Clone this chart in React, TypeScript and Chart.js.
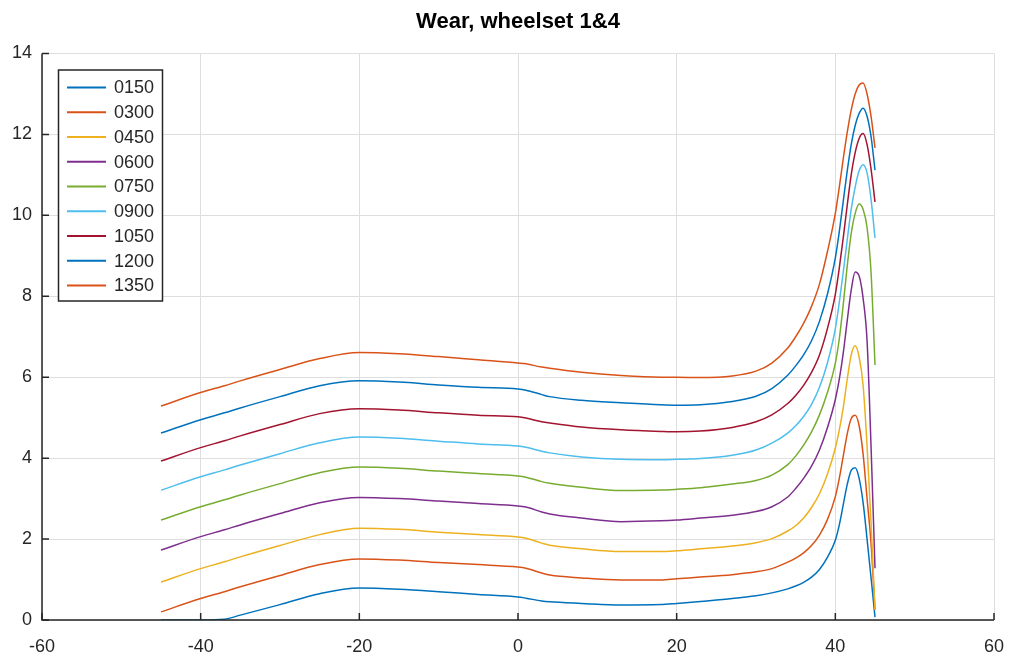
import React, { useEffect, useRef } from 'react';
import { Chart, registerables } from 'chart.js';

Chart.register(...registerables);

const TITLE = 'Wear, wheelset 1&4';
const X_TICKS = [-60, -40, -20, 0, 20, 40, 60];
const Y_TICKS = [0, 2, 4, 6, 8, 10, 12, 14];
const LABELS = ['0150', '0300', '0450', '0600', '0750', '0900', '1050', '1200', '1350'];
const COLORS = ['#0072BD', '#D95319', '#EDB120', '#7E2F8E', '#77AC30', '#4DBEEE', '#A2142F', '#0072BD', '#D95319'];

const X = [-45, -40, -37, -35, -30, -25, -20, -15, -10, -5, 0, 1, 3, 4, 8, 13, 18, 20, 23, 27, 30, 32, 34, 35, 36, 37, 38, 39, 40, 40.5, 41, 41.5, 42, 42.5, 43, 43.5, 44, 44.5, 45];

const S0150 = [0, 0, 0.02, 0.12, 0.38, 0.65, 0.79, 0.76, 0.7, 0.63, 0.57, 0.54, 0.47, 0.45, 0.41, 0.37, 0.38, 0.41, 0.46, 0.53, 0.6, 0.67, 0.77, 0.84, 0.93, 1.06, 1.25, 1.55, 1.97, 2.35, 2.85, 3.35, 3.7, 3.76, 3.5, 2.9, 2.0, 1.05, 0.07];
const S0300 = [0.2, 0.53, 0.7, 0.82, 1.1, 1.37, 1.51, 1.48, 1.42, 1.37, 1.31, 1.28, 1.16, 1.11, 1.04, 0.99, 0.99, 1.02, 1.06, 1.12, 1.19, 1.27, 1.43, 1.53, 1.66, 1.84, 2.1, 2.48, 3.05, 3.5, 4.05, 4.6, 4.98, 5.06, 4.8, 4.1, 3.0, 1.9, 0.25];
const S0450 = [0.94, 1.27, 1.44, 1.56, 1.84, 2.11, 2.27, 2.24, 2.17, 2.11, 2.05, 2.02, 1.9, 1.85, 1.76, 1.69, 1.69, 1.71, 1.76, 1.83, 1.91, 2.01, 2.2, 2.33, 2.52, 2.78, 3.12, 3.6, 4.25, 4.7, 5.25, 5.95, 6.55, 6.78, 6.5, 5.8, 4.3, 2.4, 0.25];
const S0600 = [1.73, 2.06, 2.23, 2.35, 2.63, 2.9, 3.03, 3.0, 2.94, 2.88, 2.82, 2.79, 2.67, 2.62, 2.52, 2.43, 2.45, 2.47, 2.52, 2.59, 2.68, 2.8, 3.04, 3.25, 3.5, 3.8, 4.2, 4.75, 5.45, 5.95, 6.6, 7.4, 8.15, 8.6, 8.5, 7.95, 6.9, 4.3, 1.28];
const S0750 = [2.47, 2.8, 2.97, 3.09, 3.37, 3.64, 3.78, 3.75, 3.68, 3.62, 3.56, 3.53, 3.42, 3.38, 3.28, 3.2, 3.21, 3.23, 3.27, 3.36, 3.45, 3.58, 3.84, 4.05, 4.32, 4.65, 5.07, 5.62, 6.35, 6.95, 7.8, 8.75, 9.55, 10.05, 10.28, 10.15, 9.7, 8.6, 6.3];
const S0900 = [3.21, 3.54, 3.71, 3.83, 4.11, 4.38, 4.52, 4.49, 4.42, 4.35, 4.3, 4.27, 4.17, 4.13, 4.03, 3.97, 3.96, 3.97, 3.99, 4.07, 4.2, 4.37, 4.62, 4.8, 5.03, 5.33, 5.75, 6.35, 7.2, 7.85, 8.6, 9.4, 10.15, 10.7, 11.1, 11.25, 11.05, 10.4, 9.44];
const S1050 = [3.93, 4.26, 4.43, 4.55, 4.83, 5.1, 5.22, 5.19, 5.12, 5.06, 5.02, 4.99, 4.9, 4.87, 4.77, 4.7, 4.66, 4.65, 4.67, 4.76, 4.9, 5.07, 5.35, 5.55, 5.8, 6.12, 6.55, 7.2, 8.05, 8.7, 9.45, 10.25, 11.0, 11.55, 11.9, 12.02, 11.75, 11.15, 10.33];
const S1200 = [4.62, 4.95, 5.12, 5.24, 5.52, 5.79, 5.91, 5.88, 5.81, 5.75, 5.71, 5.68, 5.57, 5.52, 5.43, 5.37, 5.32, 5.31, 5.32, 5.4, 5.53, 5.72, 6.05, 6.28, 6.55, 6.9, 7.38, 8.05, 8.95, 9.6, 10.35, 11.1, 11.75, 12.22, 12.52, 12.65, 12.45, 11.95, 11.12];
const S1350 = [5.29, 5.62, 5.79, 5.91, 6.19, 6.46, 6.61, 6.58, 6.51, 6.43, 6.35, 6.33, 6.25, 6.22, 6.12, 6.04, 6.0, 6.0, 5.99, 6.03, 6.15, 6.35, 6.72, 7.0, 7.33, 7.75, 8.3, 9.1, 10.05, 10.7, 11.4, 12.05, 12.6, 13.0, 13.22, 13.27, 13.0, 12.45, 11.67];

const SERIES = [S0150, S0300, S0450, S0600, S0750, S0900, S1050, S1200, S1350];

const FONT = '"Liberation Sans", Arial, Helvetica, sans-serif';
const TEXT = '#262626';

const decor = {
  id: 'decor',
  afterDraw(chart: any) {
    const { ctx, chartArea: a, scales } = chart;
    const xs = scales.x;
    const ys = scales.y;
    ctx.save();
    ctx.strokeStyle = TEXT;
    ctx.lineWidth = 1.5;
    ctx.beginPath();
    ctx.moveTo(a.left, a.top);
    ctx.lineTo(a.left, a.bottom);
    ctx.lineTo(a.right, a.bottom);
    ctx.stroke();
    ctx.beginPath();
    for (const v of X_TICKS) {
      const px = xs.getPixelForValue(v);
      ctx.moveTo(px, a.bottom);
      ctx.lineTo(px, a.bottom - 7);
    }
    for (const v of Y_TICKS) {
      const py = ys.getPixelForValue(v);
      ctx.moveTo(a.left, py);
      ctx.lineTo(a.left + 7, py);
    }
    ctx.stroke();

    ctx.fillStyle = '#000';
    ctx.font = `bold 22px ${FONT}`;
    ctx.textAlign = 'center';
    ctx.textBaseline = 'middle';
    ctx.fillText(TITLE, (a.left + a.right) / 2, 22);

    const bx = a.left + 16.5;
    const by = a.top + 16.5;
    const bw = 104;
    const rowH = 24.75;
    const bh = 231;
    ctx.fillStyle = '#fff';
    ctx.fillRect(bx, by, bw, bh);
    ctx.strokeStyle = TEXT;
    ctx.lineWidth = 1.5;
    ctx.strokeRect(bx, by, bw, bh);
    ctx.font = `18px ${FONT}`;
    ctx.textAlign = 'left';
    ctx.textBaseline = 'middle';
    LABELS.forEach((lab, i) => {
      const cy = by + 17.5 + i * rowH;
      ctx.strokeStyle = COLORS[i];
      ctx.lineWidth = 2;
      ctx.beginPath();
      ctx.moveTo(bx + 8.5, cy);
      ctx.lineTo(bx + 47.5, cy);
      ctx.stroke();
      ctx.fillStyle = TEXT;
      ctx.fillText(lab, bx + 55.5, cy + 1);
    });
    ctx.restore();
  },
};

export default function App() {
  const ref = useRef<HTMLCanvasElement | null>(null);
  useEffect(() => {
    if (!ref.current) return;
    const datasets = SERIES.map((s, i) => ({
      label: LABELS[i],
      data: X.map((x, j) => ({ x, y: s[j] })),
      borderColor: COLORS[i],
      backgroundColor: COLORS[i],
      borderWidth: 1.5,
      pointRadius: 0,
      fill: false,
      cubicInterpolationMode: 'monotone' as const,
      order: LABELS.length - i,
    }));
    const chart = new Chart(ref.current, {
      type: 'line',
      data: { datasets },
      options: {
        animation: false,
        responsive: false,
        layout: { padding: { top: 53.5, right: 15, left: 0, bottom: 0 } },
        plugins: { legend: { display: false }, title: { display: false }, tooltip: { enabled: false } },
        scales: {
          x: {
            type: 'linear',
            min: -60,
            max: 60,
            afterBuildTicks: (scale: any) => {
              scale.ticks = X_TICKS.map((v) => ({ value: v }));
            },
            afterFit: (scale: any) => {
              scale.height = 36;
              scale.paddingLeft = 0;
              scale.paddingRight = 0;
            },
            grid: { color: '#dedede', lineWidth: 1, drawTicks: false },
            border: { display: false },
            ticks: {
              autoSkip: false,
              maxRotation: 0,
              padding: 16,
              color: TEXT,
              font: { family: FONT, size: 18 },
            },
          },
          y: {
            type: 'linear',
            min: 0,
            max: 14,
            afterBuildTicks: (scale: any) => {
              scale.ticks = Y_TICKS.map((v) => ({ value: v }));
            },
            afterFit: (scale: any) => {
              scale.width = 42;
              scale.paddingTop = 0;
              scale.paddingBottom = 0;
            },
            grid: { color: '#dedede', lineWidth: 1, drawTicks: false },
            border: { display: false },
            ticks: {
              padding: 10,
              color: TEXT,
              font: { family: FONT, size: 18 },
            },
          },
        },
      },
      plugins: [decor],
    });
    return () => chart.destroy();
  }, []);
  return (
    <div style={{ position: 'fixed', left: 0, top: 0, width: 1009, height: 656, background: '#fff' }}>
      <canvas ref={ref} width={1009} height={656} style={{ display: 'block', width: 1009, height: 656 }} />
    </div>
  );
}
